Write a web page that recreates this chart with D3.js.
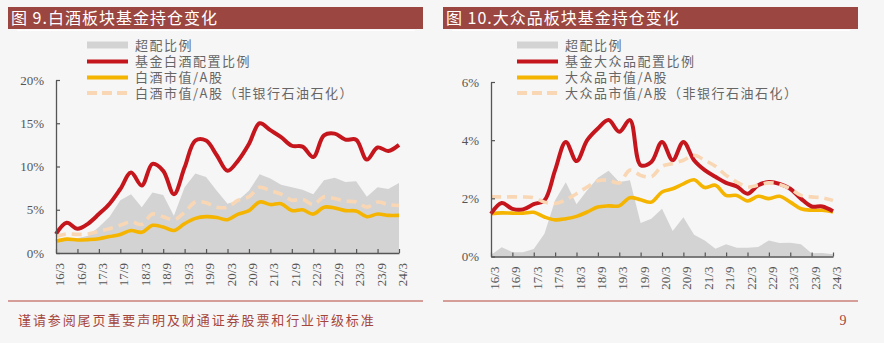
<!DOCTYPE html>
<html>
<head>
<meta charset="utf-8">
<script src="https://cdn.jsdelivr.net/npm/d3@7"></script>
<style>
  html, body { margin: 0; padding: 0; background: #f6f6f6; }
  svg { display: block; }
  .tick text { font-family: "Liberation Serif", "DejaVu Serif", serif; fill: #555; }
  .cjk { font-family: "Noto Sans CJK SC", sans-serif; }
</style>
</head>
<body>
<svg id="chart"></svg>
<script>
// quarters 16Q1 .. 24Q1
const quarters = ["16/3","16/6","16/9","16/12","17/3","17/6","17/9","17/12",
  "18/3","18/6","18/9","18/12","19/3","19/6","19/9","19/12",
  "20/3","20/6","20/9","20/12","21/3","21/6","21/9","21/12",
  "22/3","22/6","22/9","22/12","23/3","23/6","23/9","23/12","24/3"];
const tickLabels = ["16/3","16/9","17/3","17/9","18/3","18/9","19/3","19/9",
  "20/3","20/9","21/3","21/9","22/3","22/9","23/3","23/9","24/3"];

// Fig 9 - baijiu (%)
const baijiuOver = [1.3,1.5,1.7,2.0,3.0,4.2,6.1,6.8,5.3,7.0,6.7,4.3,7.6,9.2,8.8,7.2,
  5.7,6.1,7.2,9.1,8.6,7.9,7.6,7.3,6.8,8.4,8.7,8.2,8.3,6.5,7.6,7.4,8.1];
const baijiuFund = [2.2,3.5,2.8,3.4,4.5,5.7,7.4,9.3,7.8,10.3,9.5,6.8,9.9,13.0,13.0,11.3,
  9.5,10.7,12.6,15.0,14.2,13.4,12.4,12.3,11.1,13.6,13.8,13.1,13.1,10.8,12.2,11.8,12.5];
const baijiuMkt = [1.35,1.6,1.5,1.55,1.65,1.9,2.15,2.6,2.4,3.2,3.0,2.6,3.4,4.0,4.2,4.1,
  3.85,4.5,4.9,5.9,5.6,5.7,4.9,5.0,4.5,5.3,5.2,4.9,4.85,4.2,4.5,4.35,4.35];
const baijiuMktExFin = [1.9,2.2,2.15,2.2,2.5,2.8,3.2,3.6,3.3,4.5,4.2,3.85,4.7,5.9,5.8,5.3,
  5.3,6.1,6.5,7.6,7.2,6.8,6.1,6.2,5.6,6.5,6.3,6.0,5.9,5.3,5.9,5.6,5.5];

// Fig 10 - mass consumer goods (%)
const massOver = [0.05,0.32,0.15,0.15,0.26,0.78,1.93,2.55,1.8,2.28,2.71,2.95,2.56,2.62,1.15,1.3,
  1.64,0.88,1.35,0.75,0.55,0.27,0.42,0.3,0.3,0.33,0.55,0.46,0.47,0.42,0.11,0.12,0.08];
const massFund = [1.47,1.84,1.64,1.62,1.8,1.93,2.97,3.94,3.28,4.0,4.4,4.69,4.29,4.69,3.14,3.25,
  3.94,3.31,3.94,3.31,2.97,2.74,2.53,2.41,2.16,2.45,2.56,2.5,2.33,1.99,1.72,1.72,1.56];
const massMkt = [1.47,1.5,1.49,1.49,1.52,1.36,1.26,1.3,1.38,1.53,1.7,1.74,1.74,2.02,1.95,1.87,
  2.22,2.33,2.5,2.64,2.37,2.45,2.1,2.1,1.91,2.07,1.99,2.07,1.87,1.64,1.59,1.59,1.53];
const massMktExFin = [2.05,2.05,2.05,2.05,2.02,1.87,1.82,1.95,2.16,2.39,2.6,2.62,2.53,2.97,2.79,2.74,
  3.1,3.2,3.31,3.48,3.31,3.1,2.79,2.56,2.39,2.45,2.53,2.48,2.33,2.1,2.05,2.02,1.93];

const W = 884, H = 343;
const svg = d3.select("#chart").attr("width", W).attr("height", H);

svg.append("rect").attr("width", W).attr("height", H).attr("fill", "#f6f6f6");

const colors = { over: "#d3d3d3", fund: "#c4161c", mkt: "#f4b400", ex: "#f9d7b5" };

function drawPanel(p) {
  const g = svg.append("g");

  // title bar
  g.append("rect")
    .attr("x", p.barX).attr("y", 7).attr("width", 415).attr("height", 22)
    .attr("fill", "#9b4641");
  g.append("line")
    .attr("x1", p.barX + 9).attr("x2", p.barX + 407).attr("y1", 30.5).attr("y2", 30.5)
    .attr("stroke", "#fff").attr("stroke-width", 1);
  g.append("text").attr("class", "cjk")
    .attr("x", p.barX + 3).attr("y", 24)
    .attr("fill", "#fff").attr("font-size", 16).attr("letter-spacing", 1)
    .text(p.title);

  const x = d3.scalePoint().domain(quarters).range(p.xRange);
  const y = d3.scaleLinear().domain([0, p.yMax]).range(p.yRange);

  // over-allocation area
  g.append("path")
    .datum(p.over)
    .attr("fill", colors.over)
    .attr("d", d3.area()
      .x((d, i) => x(quarters[i]))
      .y0(y(0))
      .y1(d => y(d)));

  const line = d3.line()
    .x((d, i) => x(quarters[i]))
    .y(d => y(d))
    .curve(d3.curveCatmullRom.alpha(0.5));

  g.append("path").datum(p.mkt)
    .attr("fill", "none").attr("stroke", colors.mkt).attr("stroke-width", 3.6)
    .attr("d", line);
  g.append("path").datum(p.fund)
    .attr("fill", "none").attr("stroke", colors.fund).attr("stroke-width", 4)
    .attr("d", line);
  g.append("path").datum(p.ex)
    .attr("fill", "none").attr("stroke", colors.ex).attr("stroke-width", 3.6)
    .attr("stroke-dasharray", "10,6")
    .attr("d", line);

  // axes
  const yAxis = g.append("g")
    .attr("transform", `translate(${p.xRange[0]},0)`)
    .call(d3.axisLeft(y).tickValues(p.yTicks).tickSize(-4).tickSizeOuter(0)
      .tickPadding(12).tickFormat(d => d + "%"));
  yAxis.selectAll("text").attr("font-size", 13);

  const xAxis = g.append("g")
    .attr("transform", `translate(0,${p.yRange[0]})`)
    .call(d3.axisBottom(x).tickValues(tickLabels).tickSize(-4).tickSizeOuter(0));
  xAxis.selectAll("text")
    .attr("font-size", 13)
    .attr("transform", "rotate(-90)")
    .attr("text-anchor", "end")
    .attr("x", -10).attr("y", 3).attr("dy", "0.35em");

  [yAxis, xAxis].forEach(a => {
    a.select(".domain").attr("stroke", "#555").attr("stroke-width", 1.3);
    a.selectAll(".tick line").attr("stroke", "#555").attr("stroke-width", 1.2);
  });

  // legend
  const rows = [
    { name: p.names[0], color: colors.over, type: "area" },
    { name: p.names[1], color: colors.fund, type: "line" },
    { name: p.names[2], color: colors.mkt, type: "line" },
    { name: p.names[3], color: colors.ex, type: "dash" }
  ];
  const ly = [45, 61.5, 77.5, 93];
  rows.forEach((r, i) => {
    if (r.type === "area") {
      g.append("rect").attr("x", p.legendX).attr("y", ly[i] - 3.5)
        .attr("width", 41).attr("height", 7).attr("fill", r.color);
    } else {
      g.append("line")
        .attr("x1", p.legendX).attr("x2", p.legendX + 41)
        .attr("y1", ly[i]).attr("y2", ly[i])
        .attr("stroke", r.color).attr("stroke-width", 4)
        .attr("stroke-dasharray", r.type === "dash" ? "10,5" : null);
    }
    g.append("text").attr("class", "cjk")
      .attr("x", p.legendX + 48).attr("y", ly[i]).attr("dy", "0.36em")
      .attr("font-size", 13).attr("letter-spacing", 1.5).attr("fill", "#666")
      .text(r.name);
  });
}

drawPanel({
  barX: 8,
  title: "图 9.白酒板块基金持仓变化",
  xRange: [56, 399], yRange: [253, 80], yMax: 20, yTicks: [0, 5, 10, 15, 20],
  over: baijiuOver, fund: baijiuFund, mkt: baijiuMkt, ex: baijiuMktExFin,
  legendX: 87,
  names: ["超配比例", "基金白酒配置比例", "白酒市值/A股", "白酒市值/A股（非银行石油石化）"]
});

drawPanel({
  barX: 443,
  title: "图 10.大众品板块基金持仓变化",
  xRange: [491, 833], yRange: [256.5, 82], yMax: 6, yTicks: [0, 2, 4, 6],
  over: massOver, fund: massFund, mkt: massMkt, ex: massMktExFin,
  legendX: 517,
  names: ["超配比例", "基金大众品配置比例", "大众品市值/A股", "大众品市值/A股（非银行石油石化）"]
});

// footer
[[8, 423], [443, 858]].forEach(([a, b]) => {
  svg.append("line").attr("x1", a).attr("x2", b).attr("y1", 301).attr("y2", 301)
    .attr("stroke", "#b5473d").attr("stroke-width", 1.2);
});
svg.append("text").attr("class", "cjk")
  .attr("x", 18).attr("y", 325).attr("font-size", 13).attr("letter-spacing", 1.9)
  .attr("fill", "#a5463c")
  .text("谨请参阅尾页重要声明及财通证券股票和行业评级标准");
svg.append("text")
  .attr("x", 843).attr("y", 325).attr("text-anchor", "middle")
  .attr("font-family", "Liberation Serif, serif").attr("font-size", 14)
  .attr("fill", "#a5463c").text("9");
</script>
</body>
</html>
